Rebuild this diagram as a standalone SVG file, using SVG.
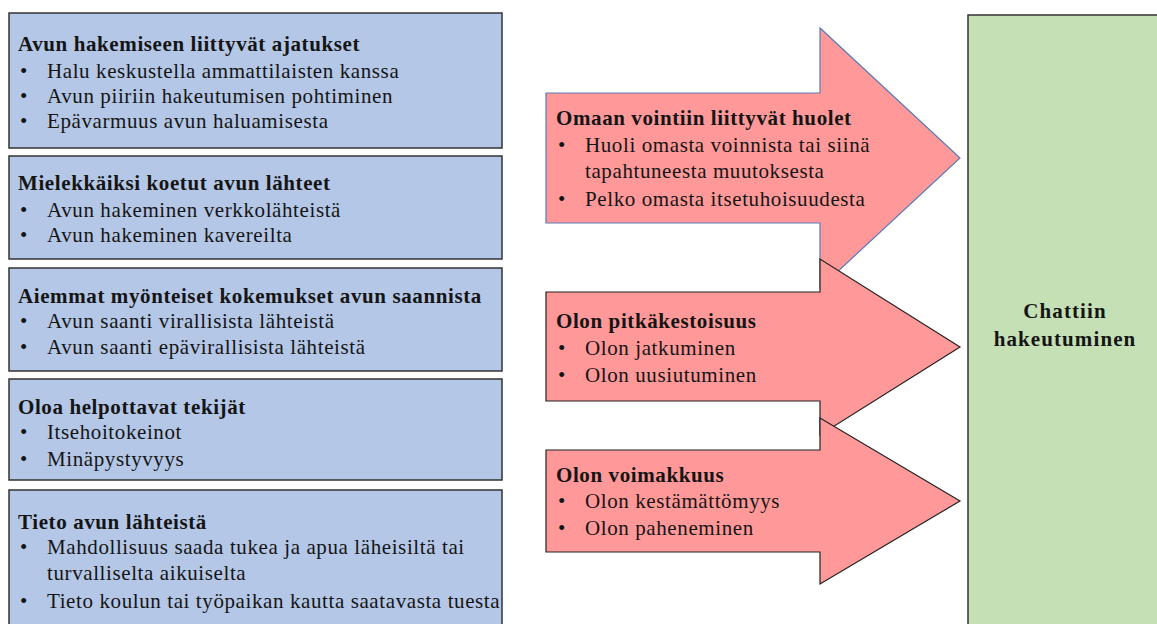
<svg xmlns="http://www.w3.org/2000/svg" width="1157" height="624" viewBox="0 0 1157 624">
<style>
text{font-family:"Liberation Serif","Times New Roman",serif;font-size:21px;letter-spacing:0.6px;fill:#151515}
.t{font-weight:bold}
.g{font-weight:bold;letter-spacing:1.1px}
.box{fill:#b4c7e7;stroke:#333;stroke-width:1.5}
.arr{fill:#ff9999;stroke:#222;stroke-width:1.2}
.arr1{fill:#ff9999;stroke:#5b7bb5;stroke-width:1.2}
.green{fill:#c5e0b4;stroke:#333;stroke-width:1.5}
</style>
<rect width="1157" height="624" fill="#fff"/>
<g id="b1">
<rect class="box" x="9" y="13" width="493" height="135"/>
<text class="t" x="18" y="51">Avun hakemiseen liittyvät ajatukset</text>
<text x="20" y="78">•</text><text x="47" y="78">Halu keskustella ammattilaisten kanssa</text>
<text x="20" y="103">•</text><text x="47" y="103">Avun piiriin hakeutumisen pohtiminen</text>
<text x="20" y="128">•</text><text x="47" y="128">Epävarmuus avun haluamisesta</text>
</g>
<g id="b2">
<rect class="box" x="9" y="156" width="493" height="103"/>
<text class="t" x="18" y="190">Mielekkäiksi koetut avun lähteet</text>
<text x="20" y="217">•</text><text x="47" y="217">Avun hakeminen verkkolähteistä</text>
<text x="20" y="242">•</text><text x="47" y="242">Avun hakeminen kavereilta</text>
</g>
<g id="b3">
<rect class="box" x="9" y="268" width="493" height="103"/>
<text class="t" x="18" y="303">Aiemmat myönteiset kokemukset avun saannista</text>
<text x="20" y="328">•</text><text x="47" y="328">Avun saanti virallisista lähteistä</text>
<text x="20" y="354">•</text><text x="47" y="354">Avun saanti epävirallisista lähteistä</text>
</g>
<g id="b4">
<rect class="box" x="9" y="379" width="493" height="101"/>
<text class="t" x="18" y="414">Oloa helpottavat tekijät</text>
<text x="20" y="439">•</text><text x="47" y="439">Itsehoitokeinot</text>
<text x="20" y="466">•</text><text x="47" y="466">Minäpystyvyys</text>
</g>
<g id="b5">
<rect class="box" x="9" y="490" width="493" height="150"/>
<text class="t" x="18" y="529">Tieto avun lähteistä</text>
<text x="20" y="554">•</text><text x="47" y="554">Mahdollisuus saada tukea ja apua läheisiltä tai</text>
<text x="47" y="580">turvalliselta aikuiselta</text>
<text x="20" y="608">•</text><text x="47" y="608">Tieto koulun tai työpaikan kautta saatavasta tuesta</text>
</g>
<g id="a1">
<path class="arr1" d="M546 93 H820 V28 L960 158 L820 288 V223 H546 Z"/>
<text class="t" x="556" y="125">Omaan vointiin liittyvät huolet</text>
<text x="558" y="152">•</text><text x="585" y="152">Huoli omasta voinnista tai siinä</text>
<text x="585" y="178">tapahtuneesta muutoksesta</text>
<text x="558" y="206">•</text><text x="585" y="206">Pelko omasta itsetuhoisuudesta</text>
</g>
<g id="a2">
<path class="arr" d="M546 292 H820 V259 L960 347 L820 435 V401 H546 Z"/>
<text class="t" x="556" y="328">Olon pitkäkestoisuus</text>
<text x="558" y="355">•</text><text x="585" y="355">Olon jatkuminen</text>
<text x="558" y="382">•</text><text x="585" y="382">Olon uusiutuminen</text>
</g>
<g id="a3">
<path class="arr" d="M546 450 H820 V418 L960 501 L820 584 V552 H546 Z"/>
<text class="t" x="556" y="482">Olon voimakkuus</text>
<text x="558" y="508">•</text><text x="585" y="508">Olon kestämättömyys</text>
<text x="558" y="535">•</text><text x="585" y="535">Olon paheneminen</text>
</g>
<g id="chat">
<rect class="green" x="968" y="15" width="220" height="630"/>
<text class="g" x="1065" y="318" text-anchor="middle">Chattiin</text>
<text class="g" x="1065" y="346" text-anchor="middle">hakeutuminen</text>
</g>
<g id="connectors"/>
</svg>
